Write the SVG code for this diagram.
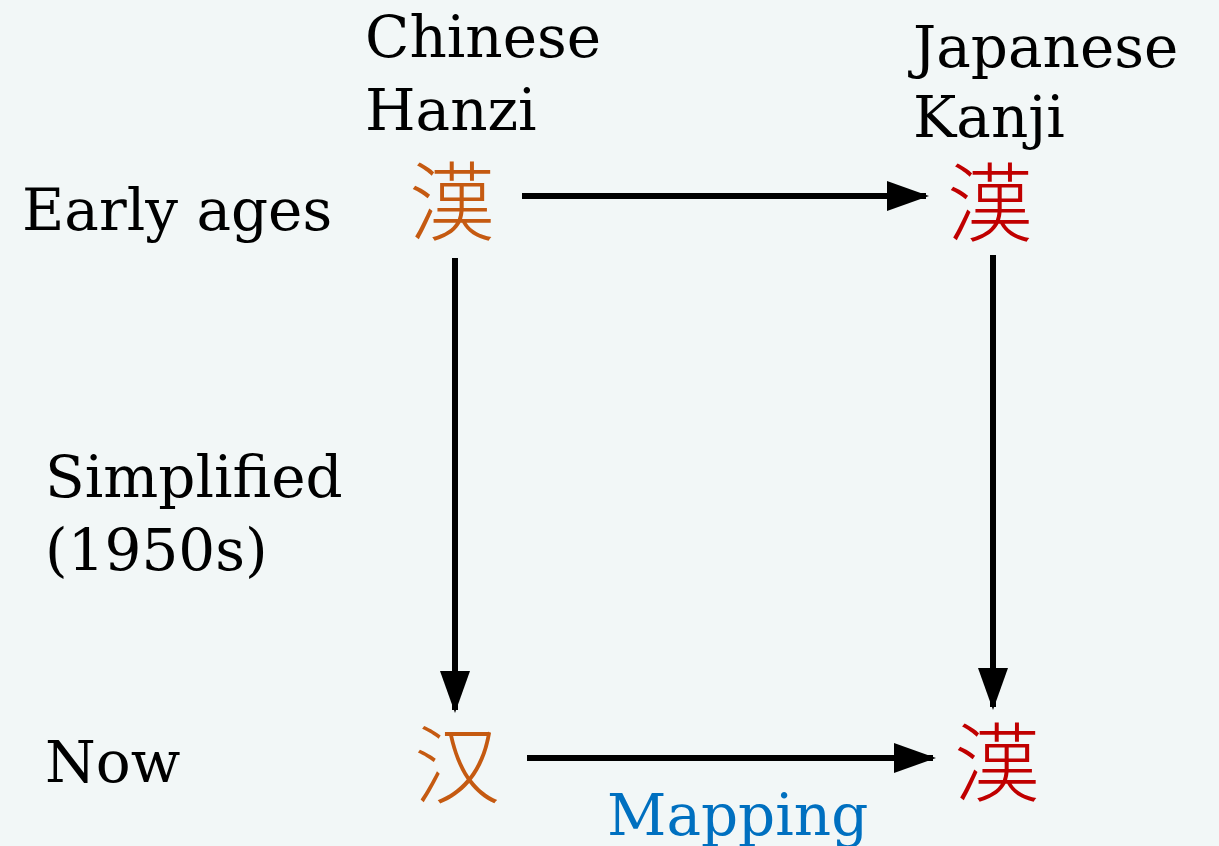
<svg xmlns="http://www.w3.org/2000/svg" width="1219" height="846" viewBox="0 0 1219 846">
<defs>
<style>
.lbl{font-family:"DejaVu Serif","Liberation Serif",serif;font-size:58px;fill:#000}
.cjk{font-family:"Noto Sans CJK JP","Noto Sans CJK SC",sans-serif;font-size:86px;font-weight:300;text-anchor:middle;dominant-baseline:central}
.conn{stroke:#000;stroke-width:6;fill:none;marker-end:url(#ah)}
</style>
<marker id="ah" markerWidth="7" markerHeight="5" refX="6.5" refY="2.5" orient="auto" markerUnits="strokeWidth"><path d="M0,0 L7,2.5 L0,5 Z" fill="#000"/></marker>
</defs>
<rect width="1219" height="846" fill="#F2F7F7"/>
<g id="labels">
<text class="lbl" x="365" y="57">Chinese</text>
<text class="lbl" x="365" y="130">Hanzi</text>
<text class="lbl" x="913" y="67">Japanese</text>
<text class="lbl" x="913" y="137">Kanji</text>
<text class="lbl" x="22" y="230">Early ages</text>
<text class="lbl" x="45" y="497">Simplified</text>
<text class="lbl" x="45" y="570">(1950s)</text>
<text class="lbl" x="45" y="782">Now</text>
</g>
<g id="node-cn-early"><text class="cjk" x="452" y="196" fill="#C55A11">漢</text></g>
<g id="node-jp-early"><text class="cjk" x="990" y="197" fill="#C00000">漢</text></g>
<g id="node-cn-now"><text class="cjk" x="457" y="759" fill="#C55A11" style="font-family:'Noto Sans CJK SC',sans-serif">汉</text></g>
<g id="node-jp-now"><text class="cjk" x="997" y="757" fill="#C00000">漢</text></g>
<g id="connectors">
<line class="conn" x1="522" y1="196" x2="926" y2="196"/>
<line class="conn" x1="455" y1="258" x2="455" y2="710"/>
<line class="conn" x1="993" y1="255" x2="993" y2="707"/>
<line class="conn" x1="527" y1="758" x2="933" y2="758"/>
<text x="607" y="835" style="font-family:'DejaVu Serif','Liberation Serif',serif;font-size:58px" fill="#0070C0">Mapping</text>
</g>
</svg>
